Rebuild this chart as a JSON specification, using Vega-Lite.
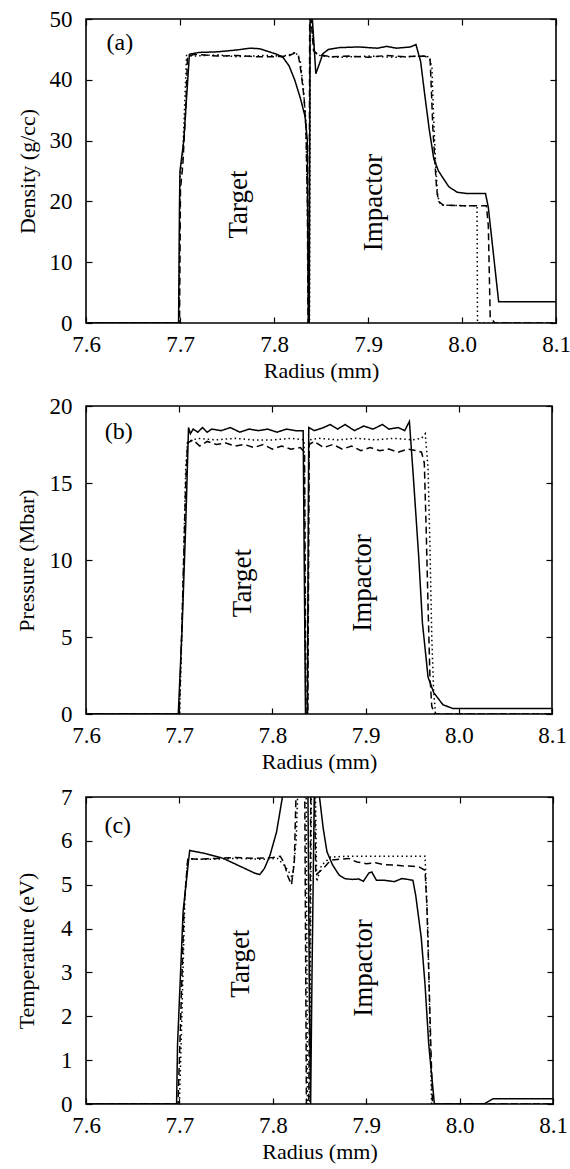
{
  "$schema": "https://vega.github.io/schema/vega-lite/v6.json",
  "background": "white",
  "padding": {"left": 14, "top": 7, "right": 0, "bottom": 2},
  "config": {
    "font": "Liberation Serif",
    "view": {"stroke": "black", "strokeWidth": 1.6},
    "axis": {
      "labelFont": "Liberation Serif", "titleFont": "Liberation Serif",
      "labelFontSize": 23, "titleFontSize": 22, "titleFontWeight": "normal",
      "labelColor": "black", "titleColor": "black",
      "tickColor": "black", "tickWidth": 1.2, "tickSize": -6,
      "domain": false, "grid": false, "labelFlush": false, "labelOverlap": false
    },
    "text": {"font": "Liberation Serif", "color": "black"}
  },
  "datasets": {
    "a": [
      {"s":"S","x":7.6,"y":0},{"s":"S","x":7.6985,"y":0},{"s":"S","x":7.6995,"y":20},{"s":"S","x":7.7,"y":25},{"s":"S","x":7.704,"y":30},{"s":"S","x":7.71,"y":44.2},{"s":"S","x":7.72,"y":44.5},{"s":"S","x":7.74,"y":44.6},{"s":"S","x":7.76,"y":44.9},{"s":"S","x":7.775,"y":45.2},{"s":"S","x":7.785,"y":45.1},{"s":"S","x":7.795,"y":44.6},{"s":"S","x":7.803,"y":44.2},{"s":"S","x":7.81,"y":43.6},{"s":"S","x":7.816,"y":42.3},{"s":"S","x":7.822,"y":40},{"s":"S","x":7.828,"y":37},{"s":"S","x":7.833,"y":34},{"s":"S","x":7.8355,"y":30},{"s":"S","x":7.8365,"y":0},{"s":"S","x":7.8375,"y":0},{"s":"S","x":7.8385,"y":55},{"s":"S","x":7.84,"y":52},{"s":"S","x":7.8445,"y":41},{"s":"S","x":7.848,"y":42.5},{"s":"S","x":7.852,"y":44.3},{"s":"S","x":7.858,"y":45},{"s":"S","x":7.87,"y":45.3},{"s":"S","x":7.89,"y":45.4},{"s":"S","x":7.91,"y":45.2},{"s":"S","x":7.92,"y":45.5},{"s":"S","x":7.93,"y":45.2},{"s":"S","x":7.945,"y":45.4},{"s":"S","x":7.951,"y":45.8},{"s":"S","x":7.956,"y":43},{"s":"S","x":7.96,"y":38},{"s":"S","x":7.965,"y":32},{"s":"S","x":7.97,"y":27},{"s":"S","x":7.975,"y":25},{"s":"S","x":7.98,"y":23.8},{"s":"S","x":7.986,"y":22.4},{"s":"S","x":7.995,"y":21.5},{"s":"S","x":8.005,"y":21.3},{"s":"S","x":8.025,"y":21.3},{"s":"S","x":8.028,"y":19},{"s":"S","x":8.039,"y":3.5},{"s":"S","x":8.1,"y":3.5},
      {"s":"D","x":7.6,"y":0},{"s":"D","x":7.6995,"y":0},{"s":"D","x":7.7005,"y":22},{"s":"D","x":7.703,"y":26},{"s":"D","x":7.706,"y":35},{"s":"D","x":7.708,"y":43.8},{"s":"D","x":7.715,"y":44.2},{"s":"D","x":7.74,"y":43.9},{"s":"D","x":7.76,"y":44},{"s":"D","x":7.78,"y":43.8},{"s":"D","x":7.8,"y":43.8},{"s":"D","x":7.815,"y":43.9},{"s":"D","x":7.822,"y":44.4},{"s":"D","x":7.826,"y":44},{"s":"D","x":7.829,"y":41},{"s":"D","x":7.832,"y":37},{"s":"D","x":7.834,"y":32},{"s":"D","x":7.8355,"y":20},{"s":"D","x":7.8362,"y":0},{"s":"D","x":7.8372,"y":0},{"s":"D","x":7.838,"y":52},{"s":"D","x":7.8395,"y":50},{"s":"D","x":7.842,"y":44.8},{"s":"D","x":7.846,"y":44.2},{"s":"D","x":7.86,"y":43.8},{"s":"D","x":7.88,"y":43.9},{"s":"D","x":7.9,"y":43.7},{"s":"D","x":7.92,"y":44},{"s":"D","x":7.94,"y":43.8},{"s":"D","x":7.96,"y":43.9},{"s":"D","x":7.966,"y":43.5},{"s":"D","x":7.967,"y":40},{"s":"D","x":7.968,"y":36},{"s":"D","x":7.969,"y":32},{"s":"D","x":7.971,"y":27},{"s":"D","x":7.973,"y":22},{"s":"D","x":7.975,"y":20},{"s":"D","x":7.98,"y":19.4},{"s":"D","x":8,"y":19.3},{"s":"D","x":8.026,"y":19.3},{"s":"D","x":8.028,"y":16},{"s":"D","x":8.03,"y":1},{"s":"D","x":8.035,"y":0},{"s":"D","x":8.1,"y":0},
      {"s":"T","x":7.6,"y":0},{"s":"T","x":7.699,"y":0},{"s":"T","x":7.7,"y":24},{"s":"T","x":7.703,"y":28},{"s":"T","x":7.707,"y":44},{"s":"T","x":7.715,"y":43.9},{"s":"T","x":7.74,"y":44.1},{"s":"T","x":7.76,"y":43.8},{"s":"T","x":7.79,"y":44},{"s":"T","x":7.81,"y":43.9},{"s":"T","x":7.818,"y":44.2},{"s":"T","x":7.823,"y":44.6},{"s":"T","x":7.828,"y":43},{"s":"T","x":7.831,"y":39},{"s":"T","x":7.834,"y":33},{"s":"T","x":7.836,"y":15},{"s":"T","x":7.8368,"y":0},{"s":"T","x":7.8378,"y":0},{"s":"T","x":7.8388,"y":52},{"s":"T","x":7.841,"y":48},{"s":"T","x":7.843,"y":44.6},{"s":"T","x":7.85,"y":43.9},{"s":"T","x":7.87,"y":43.7},{"s":"T","x":7.9,"y":43.9},{"s":"T","x":7.93,"y":43.7},{"s":"T","x":7.955,"y":43.9},{"s":"T","x":7.965,"y":43.8},{"s":"T","x":7.968,"y":42},{"s":"T","x":7.97,"y":33},{"s":"T","x":7.972,"y":26},{"s":"T","x":7.974,"y":21},{"s":"T","x":7.977,"y":19.4},{"s":"T","x":8,"y":19.3},{"s":"T","x":8.013,"y":19.3},{"s":"T","x":8.016,"y":19.2},{"s":"T","x":8.0165,"y":0},{"s":"T","x":8.1,"y":0}
    ],
    "b": [
      {"s":"S","x":7.6,"y":0},{"s":"S","x":7.699,"y":0},{"s":"S","x":7.703,"y":5.4},{"s":"S","x":7.707,"y":12.3},{"s":"S","x":7.71,"y":18.6},{"s":"S","x":7.712,"y":18.2},{"s":"S","x":7.715,"y":18.5},{"s":"S","x":7.72,"y":18.3},{"s":"S","x":7.725,"y":18.6},{"s":"S","x":7.73,"y":18.3},{"s":"S","x":7.735,"y":18.5},{"s":"S","x":7.745,"y":18.4},{"s":"S","x":7.755,"y":18.6},{"s":"S","x":7.765,"y":18.3},{"s":"S","x":7.775,"y":18.5},{"s":"S","x":7.785,"y":18.4},{"s":"S","x":7.795,"y":18.5},{"s":"S","x":7.805,"y":18.3},{"s":"S","x":7.815,"y":18.5},{"s":"S","x":7.825,"y":18.4},{"s":"S","x":7.833,"y":18.4},{"s":"S","x":7.8355,"y":0},{"s":"S","x":7.8375,"y":0},{"s":"S","x":7.839,"y":18.6},{"s":"S","x":7.845,"y":18.4},{"s":"S","x":7.855,"y":18.6},{"s":"S","x":7.862,"y":18.8},{"s":"S","x":7.87,"y":18.5},{"s":"S","x":7.878,"y":18.8},{"s":"S","x":7.888,"y":18.4},{"s":"S","x":7.898,"y":18.7},{"s":"S","x":7.908,"y":18.5},{"s":"S","x":7.918,"y":18.8},{"s":"S","x":7.925,"y":18.5},{"s":"S","x":7.935,"y":18.6},{"s":"S","x":7.942,"y":18.4},{"s":"S","x":7.947,"y":19},{"s":"S","x":7.951,"y":15.6},{"s":"S","x":7.957,"y":10.2},{"s":"S","x":7.961,"y":5.9},{"s":"S","x":7.967,"y":2.4},{"s":"S","x":7.973,"y":1.4},{"s":"S","x":7.983,"y":0.6},{"s":"S","x":7.994,"y":0.35},{"s":"S","x":8.1,"y":0.35},
      {"s":"D","x":7.6,"y":0},{"s":"D","x":7.7,"y":0},{"s":"D","x":7.703,"y":6},{"s":"D","x":7.707,"y":15},{"s":"D","x":7.709,"y":17.6},{"s":"D","x":7.715,"y":17.8},{"s":"D","x":7.722,"y":17.4},{"s":"D","x":7.73,"y":17.7},{"s":"D","x":7.74,"y":17.5},{"s":"D","x":7.75,"y":17.6},{"s":"D","x":7.76,"y":17.4},{"s":"D","x":7.77,"y":17.5},{"s":"D","x":7.78,"y":17.3},{"s":"D","x":7.79,"y":17.5},{"s":"D","x":7.8,"y":17.2},{"s":"D","x":7.81,"y":17.4},{"s":"D","x":7.82,"y":17.2},{"s":"D","x":7.83,"y":17.3},{"s":"D","x":7.8345,"y":17},{"s":"D","x":7.836,"y":0},{"s":"D","x":7.838,"y":0},{"s":"D","x":7.8395,"y":17.5},{"s":"D","x":7.845,"y":17.7},{"s":"D","x":7.855,"y":17.3},{"s":"D","x":7.865,"y":17.5},{"s":"D","x":7.875,"y":17.2},{"s":"D","x":7.885,"y":17.4},{"s":"D","x":7.895,"y":17.1},{"s":"D","x":7.905,"y":17.3},{"s":"D","x":7.915,"y":17.1},{"s":"D","x":7.925,"y":17.2},{"s":"D","x":7.935,"y":17},{"s":"D","x":7.945,"y":17.2},{"s":"D","x":7.955,"y":17.1},{"s":"D","x":7.96,"y":17},{"s":"D","x":7.963,"y":16.3},{"s":"D","x":7.965,"y":12},{"s":"D","x":7.967,"y":7},{"s":"D","x":7.969,"y":2.5},{"s":"D","x":7.971,"y":0.5},{"s":"D","x":7.974,"y":0},{"s":"D","x":8.1,"y":0},
      {"s":"T","x":7.6,"y":0},{"s":"T","x":7.7005,"y":0},{"s":"T","x":7.704,"y":8},{"s":"T","x":7.707,"y":16},{"s":"T","x":7.709,"y":17.7},{"s":"T","x":7.72,"y":17.9},{"s":"T","x":7.74,"y":17.8},{"s":"T","x":7.76,"y":17.9},{"s":"T","x":7.78,"y":17.8},{"s":"T","x":7.8,"y":17.8},{"s":"T","x":7.82,"y":17.9},{"s":"T","x":7.834,"y":17.8},{"s":"T","x":7.8358,"y":0},{"s":"T","x":7.8378,"y":0},{"s":"T","x":7.8392,"y":17.8},{"s":"T","x":7.85,"y":17.9},{"s":"T","x":7.87,"y":17.8},{"s":"T","x":7.89,"y":17.9},{"s":"T","x":7.91,"y":17.8},{"s":"T","x":7.93,"y":17.9},{"s":"T","x":7.95,"y":17.8},{"s":"T","x":7.96,"y":17.9},{"s":"T","x":7.964,"y":18.2},{"s":"T","x":7.967,"y":16},{"s":"T","x":7.969,"y":11},{"s":"T","x":7.971,"y":5},{"s":"T","x":7.973,"y":1.5},{"s":"T","x":7.975,"y":0},{"s":"T","x":8.1,"y":0}
    ],
    "c": [
      {"s":"S","x":7.6,"y":0},{"s":"S","x":7.697,"y":0},{"s":"S","x":7.698,"y":1.35},{"s":"S","x":7.704,"y":4.4},{"s":"S","x":7.711,"y":5.78},{"s":"S","x":7.728,"y":5.71},{"s":"S","x":7.747,"y":5.6},{"s":"S","x":7.766,"y":5.41},{"s":"S","x":7.781,"y":5.26},{"s":"S","x":7.786,"y":5.23},{"s":"S","x":7.791,"y":5.37},{"s":"S","x":7.797,"y":5.67},{"s":"S","x":7.804,"y":6.2},{"s":"S","x":7.81,"y":6.96},{"s":"S","x":7.815,"y":8},{"s":"S","x":7.837,"y":9},{"s":"S","x":7.839,"y":3},{"s":"S","x":7.8405,"y":0},{"s":"S","x":7.842,"y":3},{"s":"S","x":7.845,"y":8},{"s":"S","x":7.85,"y":7},{"s":"S","x":7.854,"y":6.28},{"s":"S","x":7.858,"y":5.75},{"s":"S","x":7.864,"y":5.45},{"s":"S","x":7.871,"y":5.22},{"s":"S","x":7.877,"y":5.14},{"s":"S","x":7.885,"y":5.12},{"s":"S","x":7.892,"y":5.13},{"s":"S","x":7.897,"y":5.08},{"s":"S","x":7.903,"y":5.27},{"s":"S","x":7.906,"y":5.29},{"s":"S","x":7.911,"y":5.1},{"s":"S","x":7.92,"y":5.1},{"s":"S","x":7.93,"y":5.07},{"s":"S","x":7.938,"y":5.14},{"s":"S","x":7.945,"y":5.12},{"s":"S","x":7.95,"y":5.1},{"s":"S","x":7.953,"y":4.76},{"s":"S","x":7.959,"y":3.78},{"s":"S","x":7.963,"y":2.72},{"s":"S","x":7.967,"y":1.35},{"s":"S","x":7.973,"y":0},{"s":"S","x":8.026,"y":0},{"s":"S","x":8.036,"y":0.12},{"s":"S","x":8.1,"y":0.12},
      {"s":"D","x":7.6,"y":0},{"s":"D","x":7.6985,"y":0},{"s":"D","x":7.7,"y":1},{"s":"D","x":7.705,"y":4.5},{"s":"D","x":7.709,"y":5.6},{"s":"D","x":7.72,"y":5.58},{"s":"D","x":7.74,"y":5.6},{"s":"D","x":7.76,"y":5.62},{"s":"D","x":7.78,"y":5.6},{"s":"D","x":7.8,"y":5.62},{"s":"D","x":7.808,"y":5.65},{"s":"D","x":7.812,"y":5.5},{"s":"D","x":7.816,"y":5.2},{"s":"D","x":7.82,"y":5},{"s":"D","x":7.823,"y":5.5},{"s":"D","x":7.826,"y":8},{"s":"D","x":7.834,"y":8},{"s":"D","x":7.836,"y":0},{"s":"D","x":7.8385,"y":0},{"s":"D","x":7.841,"y":8},{"s":"D","x":7.844,"y":8},{"s":"D","x":7.846,"y":5.22},{"s":"D","x":7.854,"y":5.37},{"s":"D","x":7.862,"y":5.56},{"s":"D","x":7.881,"y":5.6},{"s":"D","x":7.89,"y":5.52},{"s":"D","x":7.9,"y":5.48},{"s":"D","x":7.91,"y":5.5},{"s":"D","x":7.919,"y":5.46},{"s":"D","x":7.93,"y":5.45},{"s":"D","x":7.938,"y":5.43},{"s":"D","x":7.95,"y":5.42},{"s":"D","x":7.957,"y":5.4},{"s":"D","x":7.963,"y":5.33},{"s":"D","x":7.965,"y":4.5},{"s":"D","x":7.967,"y":3},{"s":"D","x":7.969,"y":1.5},{"s":"D","x":7.971,"y":0},{"s":"D","x":8.1,"y":0},
      {"s":"T","x":7.6,"y":0},{"s":"T","x":7.7,"y":0},{"s":"T","x":7.702,"y":1.5},{"s":"T","x":7.706,"y":4.8},{"s":"T","x":7.709,"y":5.58},{"s":"T","x":7.73,"y":5.58},{"s":"T","x":7.76,"y":5.6},{"s":"T","x":7.79,"y":5.58},{"s":"T","x":7.805,"y":5.6},{"s":"T","x":7.812,"y":5.45},{"s":"T","x":7.817,"y":5.3},{"s":"T","x":7.821,"y":5.15},{"s":"T","x":7.825,"y":6},{"s":"T","x":7.828,"y":8},{"s":"T","x":7.8355,"y":8},{"s":"T","x":7.8372,"y":0},{"s":"T","x":7.8395,"y":0},{"s":"T","x":7.8415,"y":8},{"s":"T","x":7.845,"y":8},{"s":"T","x":7.847,"y":5.07},{"s":"T","x":7.852,"y":5.44},{"s":"T","x":7.862,"y":5.63},{"s":"T","x":7.88,"y":5.65},{"s":"T","x":7.9,"y":5.65},{"s":"T","x":7.93,"y":5.65},{"s":"T","x":7.963,"y":5.65},{"s":"T","x":7.966,"y":4},{"s":"T","x":7.968,"y":2},{"s":"T","x":7.97,"y":0},{"s":"T","x":8.1,"y":0}
    ]
  },
  "columns": 1,
  "spacing": 12,
  "concat": [
    {
      "width": 470, "height": 304,
      "layer": [
        {
          "data": {"name": "a"},
          "mark": {"type": "line", "clip": true, "color": "black"},
          "encoding": {
            "x": {"field": "x", "type": "quantitative", "scale": {"domain": [7.6, 8.1], "nice": false, "zero": false}, "axis": {"title": "Radius (mm)", "values": [7.6, 7.7, 7.8, 7.9, 8.0, 8.1], "format": ".1f", "labelPadding": 16, "titlePadding": 4}},
            "y": {"field": "y", "type": "quantitative", "scale": {"domain": [0, 50], "nice": false}, "axis": {"title": "Density (g/cc)", "values": [0, 10, 20, 30, 40, 50], "labelPadding": 20, "titlePadding": 10}},
            "strokeDash": {"field": "s", "type": "nominal", "scale": {"domain": ["S", "D", "T"], "range": [[1, 0], [7, 4], [1.5, 3]]}, "legend": null},
            "strokeWidth": {"field": "s", "type": "nominal", "scale": {"domain": ["S", "D", "T"], "range": [1.5, 1.5, 1.9]}, "legend": null}
          }
        },
        {
          "data": {"values": [{"x": 7.763, "y": 19.5, "t": "Target"}, {"x": 7.906, "y": 19.8, "t": "Impactor"}]},
          "mark": {"type": "text", "angle": 270, "fontSize": 27, "align": "center", "baseline": "middle"},
          "encoding": {
            "x": {"field": "x", "type": "quantitative", "scale": {"domain": [7.6, 8.1], "nice": false, "zero": false}, "axis": {"orient": "top", "labels": false, "title": null, "values": [7.6, 7.7, 7.8, 7.9, 8.0, 8.1]}},
            "y": {"field": "y", "type": "quantitative", "scale": {"domain": [0, 50], "nice": false}, "axis": {"orient": "right", "labels": false, "title": null, "values": [0, 10, 20, 30, 40, 50]}},
            "text": {"field": "t"}
          }
        },
        {
          "data": {"values": [{"x": 7.636, "y": 46, "t": "(a)"}]},
          "mark": {"type": "text", "fontSize": 24, "align": "center", "baseline": "middle"},
          "encoding": {
            "x": {"field": "x", "type": "quantitative", "axis": null},
            "y": {"field": "y", "type": "quantitative", "axis": null},
            "text": {"field": "t"}
          }
        }
      ],
      "resolve": {"axis": {"x": "independent", "y": "independent"}}
    },
    {
      "width": 466, "height": 308,
      "layer": [
        {
          "data": {"name": "b"},
          "mark": {"type": "line", "clip": true, "color": "black"},
          "encoding": {
            "x": {"field": "x", "type": "quantitative", "scale": {"domain": [7.6, 8.1], "nice": false, "zero": false}, "axis": {"title": "Radius (mm)", "values": [7.6, 7.7, 7.8, 7.9, 8.0, 8.1], "format": ".1f", "labelPadding": 16, "titlePadding": 4}},
            "y": {"field": "y", "type": "quantitative", "scale": {"domain": [0, 20], "nice": false}, "axis": {"title": "Pressure (Mbar)", "values": [0, 5, 10, 15, 20], "labelPadding": 20, "titlePadding": 11}},
            "strokeDash": {"field": "s", "type": "nominal", "scale": {"domain": ["S", "D", "T"], "range": [[1, 0], [7, 4], [1.5, 3]]}, "legend": null},
            "strokeWidth": {"field": "s", "type": "nominal", "scale": {"domain": ["S", "D", "T"], "range": [1.5, 1.5, 1.9]}, "legend": null}
          }
        },
        {
          "data": {"values": [{"x": 7.768, "y": 8.5, "t": "Target"}, {"x": 7.897, "y": 8.5, "t": "Impactor"}]},
          "mark": {"type": "text", "angle": 270, "fontSize": 27, "align": "center", "baseline": "middle"},
          "encoding": {
            "x": {"field": "x", "type": "quantitative", "scale": {"domain": [7.6, 8.1], "nice": false, "zero": false}, "axis": {"orient": "top", "labels": false, "title": null, "values": [7.6, 7.7, 7.8, 7.9, 8.0, 8.1]}},
            "y": {"field": "y", "type": "quantitative", "scale": {"domain": [0, 20], "nice": false}, "axis": {"orient": "right", "labels": false, "title": null, "values": [0, 5, 10, 15, 20]}},
            "text": {"field": "t"}
          }
        },
        {
          "data": {"values": [{"x": 7.635, "y": 18.3, "t": "(b)"}]},
          "mark": {"type": "text", "fontSize": 24, "align": "center", "baseline": "middle"},
          "encoding": {
            "x": {"field": "x", "type": "quantitative", "axis": null},
            "y": {"field": "y", "type": "quantitative", "axis": null},
            "text": {"field": "t"}
          }
        }
      ],
      "resolve": {"axis": {"x": "independent", "y": "independent"}}
    },
    {
      "width": 467, "height": 307,
      "layer": [
        {
          "data": {"name": "c"},
          "mark": {"type": "line", "clip": true, "color": "black"},
          "encoding": {
            "x": {"field": "x", "type": "quantitative", "scale": {"domain": [7.6, 8.1], "nice": false, "zero": false}, "axis": {"title": "Radius (mm)", "values": [7.6, 7.7, 7.8, 7.9, 8.0, 8.1], "format": ".1f", "labelPadding": 16, "titlePadding": 4}},
            "y": {"field": "y", "type": "quantitative", "scale": {"domain": [0, 7], "nice": false}, "axis": {"title": "Temperature (eV)", "values": [0, 1, 2, 3, 4, 5, 6, 7], "labelPadding": 20, "titlePadding": 22}},
            "strokeDash": {"field": "s", "type": "nominal", "scale": {"domain": ["S", "D", "T"], "range": [[1, 0], [7, 4], [1.5, 3]]}, "legend": null},
            "strokeWidth": {"field": "s", "type": "nominal", "scale": {"domain": ["S", "D", "T"], "range": [1.5, 1.5, 1.9]}, "legend": null}
          }
        },
        {
          "data": {"values": [{"x": 7.766, "y": 3.2, "t": "Target"}, {"x": 7.898, "y": 3.1, "t": "Impactor"}]},
          "mark": {"type": "text", "angle": 270, "fontSize": 27, "align": "center", "baseline": "middle"},
          "encoding": {
            "x": {"field": "x", "type": "quantitative", "scale": {"domain": [7.6, 8.1], "nice": false, "zero": false}, "axis": {"orient": "top", "labels": false, "title": null, "values": [7.6, 7.7, 7.8, 7.9, 8.0, 8.1]}},
            "y": {"field": "y", "type": "quantitative", "scale": {"domain": [0, 7], "nice": false}, "axis": {"orient": "right", "labels": false, "title": null, "values": [0, 1, 2, 3, 4, 5, 6, 7]}},
            "text": {"field": "t"}
          }
        },
        {
          "data": {"values": [{"x": 7.634, "y": 6.35, "t": "(c)"}]},
          "mark": {"type": "text", "fontSize": 24, "align": "center", "baseline": "middle"},
          "encoding": {
            "x": {"field": "x", "type": "quantitative", "axis": null},
            "y": {"field": "y", "type": "quantitative", "axis": null},
            "text": {"field": "t"}
          }
        }
      ],
      "resolve": {"axis": {"x": "independent", "y": "independent"}}
    }
  ]
}
